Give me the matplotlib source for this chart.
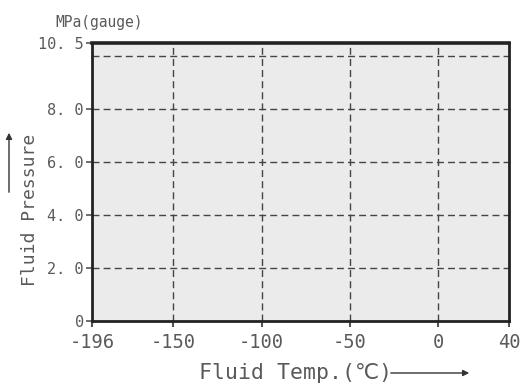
import matplotlib
matplotlib.use("Agg")
import matplotlib.pyplot as plt
from matplotlib.patches import FancyArrowPatch

# Data
x_ticks = [-196, -150, -100, -50, 0, 40]
x_tick_labels = ["-196", "-150", "-100", "-50", "0", "40"]
y_ticks = [0, 2.0, 4.0, 6.0, 8.0, 10.5]
y_tick_labels = ["0", "2. 0", "4. 0", "6. 0", "8. 0", "10. 5"]
h_grid = [2.0, 4.0, 6.0, 8.0, 10.0]
v_grid = [-150, -100, -50, 0]
x_lim = (-196, 40)
y_lim = (0, 10.5)

plt.rcParams['font.family'] = ['DejaVu Sans Mono', 'DejaVu Sans']
txt = '#5a5a5a'

fig = plt.figure(figsize=(5.25, 3.87), dpi=100)
W, H = 525, 387
ax = fig.add_axes([92 / W, 1 - 321 / H, (509 - 92) / W, (321 - 43) / H])
ax.set_xlim(*x_lim)
ax.set_ylim(*y_lim)
ax.set_facecolor('#ebebeb')

for v in h_grid:
    ax.axhline(v, color='#444444', lw=1.0, ls=(0, (5, 3)))
for v in v_grid:
    ax.axvline(v, color='#444444', lw=1.0, ls=(0, (5, 3)))

for s in ax.spines.values():
    s.set_linewidth(2.0)
    s.set_color('#222222')
ax.spines['top'].set_linewidth(2.6)

ax.set_xticks(x_ticks)
ax.set_xticklabels(x_tick_labels, fontsize=13.5, color=txt)
ax.set_yticks(y_ticks)
ax.set_yticklabels(y_tick_labels, fontsize=11, color=txt)
ax.tick_params(axis='x', length=4, width=1.5, color='#555555', pad=5, direction='out')
ax.tick_params(axis='y', length=4, width=1.2, color='#555555', pad=2, direction='out')

fig.text(55 / W, 1 - 23 / H, "MPa(gauge)", fontsize=10.5, color=txt, va='center', ha='left')

# y label with arrow
fig.text(30 / W, 1 - 210 / H, "Fluid Pressure", rotation=90, fontsize=13,
         color=txt, va='center', ha='center')
fig.add_artist(FancyArrowPatch(
    (9 / W, 1 - 195 / H), (9 / W, 1 - 130 / H), transform=fig.transFigure,
    arrowstyle='-|>', mutation_scale=9, color='#333333', lw=1.0))

# x label with arrow
fig.text(296 / W, 1 - 373 / H, "Fluid Temp.(℃)", fontsize=15.5, color=txt,
         va='center', ha='center')
fig.add_artist(FancyArrowPatch(
    (388 / W, 1 - 373 / H), (472 / W, 1 - 373 / H), transform=fig.transFigure,
    arrowstyle='-|>', mutation_scale=9, color='#333333', lw=1.0))

fig.savefig("out.png", dpi=100)
